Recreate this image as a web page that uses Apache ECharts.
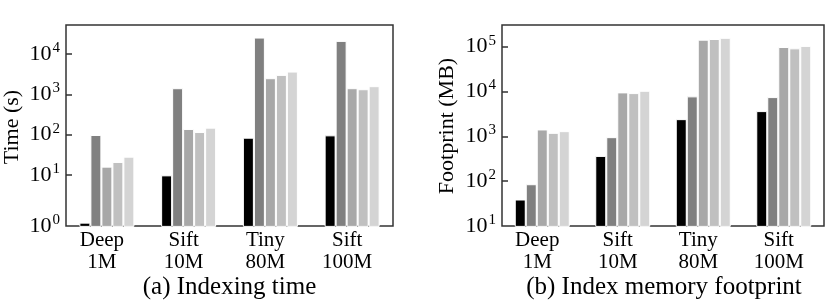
<!DOCTYPE html>
<html><head><meta charset="utf-8">
<script src="https://cdn.jsdelivr.net/npm/echarts@6/dist/echarts.min.js"></script>
<style>html,body{margin:0;padding:0;background:#fff}#c{width:830px;height:302px}</style>
</head><body><div id="c"></div>
<script>
const categories = ['Deep\n1M', 'Sift\n10M', 'Tiny\n80M', 'Sift\n100M'];
// (a) Indexing time (s)
const timeS1 = [0.66, 9.8, 84, 96];
const timeS2 = [98, 1413, 25400, 21000];
const timeS3 = [16.1, 138, 2500, 1413];
const timeS4 = [21, 116, 3020, 1333];
const timeS5 = [28.4, 149, 3650, 1586];
// (b) Index memory footprint (MB)
const memS1 = [39, 366, 2420, 3660];
const memS2 = [85.5, 959, 7800, 7520];
const memS3 = [1425, 9570, 143500, 98500];
const memS4 = [1197, 9230, 148500, 92000];
const memS5 = [1306, 10400, 158000, 104000];
// tick labels (powers of ten); the first one sits at the axis bottom
const timeTickExp = [0, 1, 2, 3, 4];
const memTickExp = [1, 2, 3, 4, 5];
const timeMin = 0.545, timeMax = 52000;
const memMin = 10, memMax = 305000;

const colors = ['#000000', '#808080', '#a8a8a8', '#c0c0c0', '#d4d4d4'];
const FONT = 'Liberation Serif';

function yAxis(gi, min, max, exps, base) {
  const tickVals = exps.slice(1).map(e => Math.pow(10, e)).filter(v => v < max);
  const labelVals = [min * 1.002].concat(exps.slice(1).map(e => Math.pow(10, e)));
  return {
    type: 'log', gridIndex: gi, min: min, max: max, startValue: base, logBase: 10,
    axisLine: {show: false},
    splitLine: {show: false},
    minorTick: {show: false},
    axisTick: {show: true, inside: true, length: 6, lineStyle: {color: '#333', width: 1.5}, customValues: tickVals},
    axisLabel: {
      customValues: labelVals, margin: 6, fontSize: 22, fontFamily: FONT, color: '#000',
      formatter: v => '{b|10}{s|' + (v < min * 1.01 ? exps[0] : Math.round(Math.log10(v))) + '}',
      rich: {
        b: {fontFamily: FONT, fontSize: 22, lineHeight: 24, color: '#000'},
        s: {fontFamily: FONT, fontSize: 15, lineHeight: 16, color: '#000', padding: [0, 0, 12, 1]}
      }
    }
  };
}
function xAxis(gi) {
  return {
    type: 'category', gridIndex: gi, data: categories,
    axisLine: {show: false}, axisTick: {show: false},
    axisLabel: {fontFamily: FONT, fontSize: 21, color: '#000', lineHeight: 22, margin: 3, padding: [0, 10, 0, 0], interval: 0}
  };
}
function series(gi, arrs) {
  return arrs.map((d, i) => ({
    type: 'bar', xAxisIndex: gi, yAxisIndex: gi, data: d, clip: false,
    barWidth: 11, barGap: '0%',
    itemStyle: {color: colors[i], borderColor: '#fff', borderWidth: 1},
    emphasis: {disabled: true}, silent: true
  }));
}
function vText(x, y, text) {
  return {type: 'text', x: x, y: y, rotation: Math.PI / 2, silent: true,
    style: {text: text, font: '22px "Liberation Serif"', fill: '#000',
      align: 'center', verticalAlign: 'middle', textAlign: 'center', textVerticalAlign: 'middle'}};
}

const chart = echarts.init(document.getElementById('c'), null, {renderer: 'canvas'});
chart.setOption({
  animation: false,
  title: [
    {text: '(a) Indexing time', left: 229.5, textAlign: 'center', top: 275, padding: 0,
     textStyle: {fontFamily: FONT, fontSize: 25, fontWeight: 'normal', color: '#000'}},
    {text: '(b) Index memory footprint', left: 664, textAlign: 'center', top: 275, padding: 0,
     textStyle: {fontFamily: FONT, fontSize: 25, fontWeight: 'normal', color: '#000'}}
  ],
  graphic: [vText(12, 127, 'Time (s)'), vText(447, 126, 'Footprint (MB)')],
  grid: [
    {left: 66, top: 25, width: 327, height: 201, show: true, borderColor: '#333', borderWidth: 1.5, backgroundColor: 'transparent'},
    {left: 502, top: 25, width: 322, height: 201, show: true, borderColor: '#333', borderWidth: 1.5, backgroundColor: 'transparent'}
  ],
  xAxis: [xAxis(0), xAxis(1)],
  yAxis: [
    yAxis(0, timeMin, timeMax, timeTickExp, timeMin * 0.95),
    yAxis(1, memMin, memMax, memTickExp, memMin * 0.955)
  ],
  series: series(0, [timeS1, timeS2, timeS3, timeS4, timeS5]).concat(series(1, [memS1, memS2, memS3, memS4, memS5]))
});
</script></body></html>
